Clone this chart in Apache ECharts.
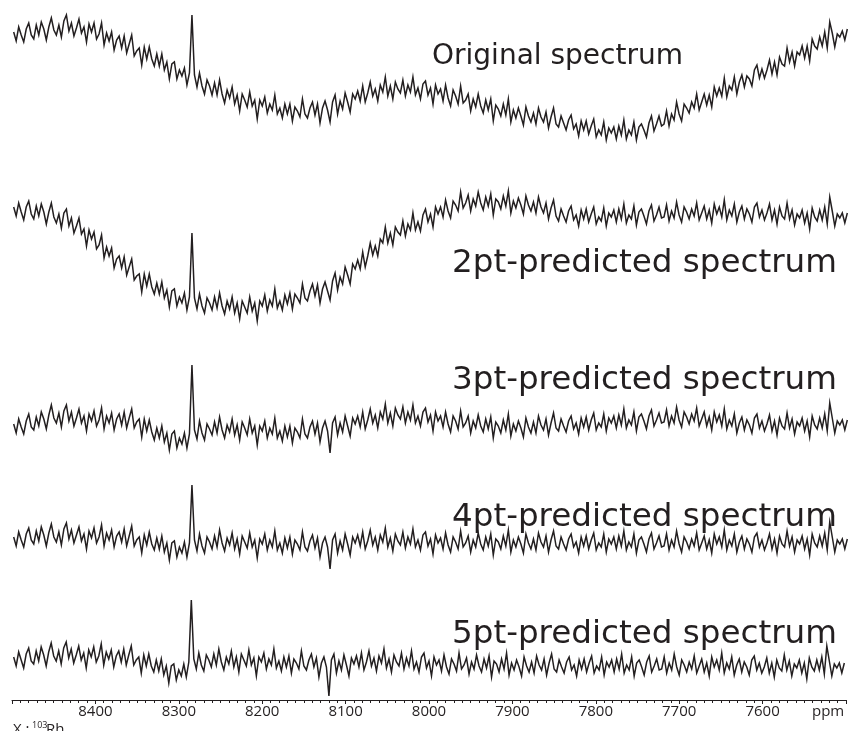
<!DOCTYPE html>
<html>
<head>
<meta charset="utf-8">
<script src="https://cdn.jsdelivr.net/npm/echarts@6/dist/echarts.min.js"></script>
<style>
html, body { margin: 0; padding: 0; background: #fff; }
#nmrStack { width: 849px; height: 731px; }
</style>
</head>
<body>
<div id="nmrStack"></div>
<script>
// 103Rh shift grid: one point every 3 ppm, 8498 -> 7502
const ppm = []
for (let i = 0; i < 333; i++) ppm.push(8498 - 3 * i)

const tickLabels = [8400, 8300, 8200, 8100, 8000, 7900, 7800, 7700, 7600]
const traceNames = ['Original spectrum', '2pt-predicted spectrum', '3pt-predicted spectrum', '4pt-predicted spectrum', '5pt-predicted spectrum']

// intensities (a.u.)
const original = [
  118,109,123,115,108,121,127,115,111,125, 115,128,121,110,123,132,120,115,125,113,
  129,135,119,127,114,122,131,117,123,108, 126,118,127,111,116,127,105,117,109,118,
  100,110,114,102,114,97,106,115,94,99, 102,85,103,91,103,91,84,96,84,96,
  80,88,71,86,88,71,80,74,82,65, 77,135,75,63,77,64,56,70,64,55,
  67,55,70,56,47,60,52,63,46,55, 39,56,50,43,58,44,50,31,50,44,
  53,37,46,40,55,36,42,32,46,36, 46,29,43,39,33,51,36,32,42,48,
  35,46,27,42,49,40,28,48,55,36, 49,41,57,48,38,56,51,59,49,64,
  48,57,68,54,61,49,65,58,73,54, 64,51,68,61,57,70,54,65,58,73,
  55,62,51,66,69,55,62,46,65,56, 61,49,65,52,44,60,54,46,64,47,
  50,56,39,51,43,56,44,37,50,40, 51,29,45,41,34,46,35,51,28,40,
  32,42,34,25,43,34,28,37,26,42, 33,28,38,22,33,42,26,23,34,27,
  20,30,35,21,26,14,29,20,29,16, 24,31,13,20,15,28,10,22,17,23,
  11,24,15,30,11,20,15,28,10,23, 26,20,13,27,34,19,26,34,24,26,
  39,24,36,30,48,36,29,46,42,37, 48,42,56,40,48,56,45,55,43,63,
  54,62,54,72,53,64,60,73,56,68, 75,63,74,71,64,80,85,72,81,72,
  80,90,76,88,75,93,86,84,102,88, 98,84,98,95,104,92,104,89,111,104,
  101,113,104,118,102,128,117,103,116,113, 119,110,121
]
const pred2 = [
  123,114,127,118,110,123,129,116,111,124, 114,126,118,106,118,127,113,107,116,102,
  117,121,104,112,97,104,112,96,101,84, 100,91,98,81,85,95,72,83,74,82,
  62,71,74,62,73,55,63,71,50,54, 56,38,56,44,56,43,36,47,36,48,
  32,40,23,39,41,24,33,27,37,20, 33,97,32,21,36,24,17,32,27,20,
  33,22,37,24,16,29,21,33,17,27, 11,29,23,17,33,19,27,9,29,24,
  35,19,30,24,41,22,29,20,35,26, 37,21,36,32,27,46,32,29,39,46,
  34,45,27,41,48,39,30,49,57,40, 53,46,63,55,46,66,61,70,61,78,
  63,74,87,75,84,74,91,87,103,87, 97,85,103,98,95,109,94,106,100,117,
  100,108,99,115,121,108,116,103,123,116, 123,113,130,119,112,129,125,119,138,122,
  127,135,119,131,124,138,127,120,133,124, 136,115,131,128,121,134,124,139,117,129,
  122,132,125,116,134,125,119,128,117,133, 123,117,127,111,122,130,114,109,121,114,
  108,119,124,110,115,104,120,111,121,108, 116,123,106,113,109,122,104,117,113,120,
  108,121,111,126,107,115,111,124,105,118, 121,114,106,119,125,109,115,123,112,113,
  125,109,119,112,128,115,108,123,118,111, 121,114,127,110,117,124,111,120,107,126,
  116,123,113,130,110,120,114,126,108,118, 124,111,121,116,108,123,127,113,120,110,
  117,126,110,120,106,123,114,111,127,111, 120,105,116,112,120,107,117,101,122,113,
  109,120,110,123,106,133,119,104,116,112, 117,107,117
]
const pred3 = [
  31,22,36,28,21,34,41,28,25,38, 29,43,36,26,40,50,37,32,42,28,
  44,50,34,43,29,37,46,32,39,24, 41,34,44,29,35,47,26,39,32,42,
  25,36,41,30,43,27,37,46,27,33, 36,18,36,24,35,23,15,27,17,29,
  13,22,5,21,24,7,17,11,22,7, 21,90,25,16,34,22,15,31,26,20,
  33,22,38,25,17,30,23,36,20,30, 15,33,27,20,36,22,29,10,29,24,
  34,17,27,21,37,17,24,14,29,18, 29,12,27,23,17,36,21,17,28,34,
  21,32,13,27,34,24,2,32,38,20, 32,23,39,29,19,37,31,39,28,43,
  26,35,46,32,40,27,43,36,51,32, 42,29,47,40,36,48,32,43,35,50,
  32,39,29,43,47,33,40,24,43,34, 39,28,43,31,23,39,34,26,44,28,
  32,39,22,34,27,40,29,23,36,26, 38,17,33,29,22,35,25,41,19,31,
  24,34,27,18,37,28,22,33,22,39, 30,25,36,20,32,42,27,24,36,29,
  23,34,39,26,32,21,37,28,38,25, 35,42,25,32,28,41,24,37,32,39,
  27,40,30,46,27,35,30,43,24,38, 41,34,26,39,45,29,35,42,32,33,
  45,29,39,32,48,35,28,43,38,31, 41,34,47,29,36,43,29,38,25,43,
  33,40,29,46,26,35,29,41,22,32, 38,25,35,30,22,37,41,27,34,24,
  31,40,24,34,20,37,29,26,42,27, 36,21,33,29,37,24,34,18,39,30,
  26,37,27,41,24,52,37,22,34,30, 35,25,35
]
const pred4 = [
  36,27,41,33,26,39,45,33,29,42, 32,46,38,27,40,49,36,31,41,28,
  44,50,34,43,30,38,46,32,39,24, 42,35,45,30,36,48,27,40,33,43,
  26,37,41,31,44,27,37,47,27,33, 36,20,38,28,41,29,23,35,24,37,
  21,30,13,30,32,16,26,20,31,16, 30,88,33,22,39,27,20,36,31,24,
  37,26,43,30,22,35,28,40,24,34, 19,37,31,25,40,26,33,15,34,29,
  39,23,33,26,42,23,30,20,35,25, 36,19,33,29,23,41,26,22,32,38,
  25,35,16,30,36,26,4,33,39,20, 32,23,39,29,18,36,30,38,27,41,
  24,32,43,28,36,23,38,31,45,26, 35,22,39,32,28,41,25,36,29,44,
  26,33,23,38,41,27,34,19,38,30, 35,24,40,28,21,36,31,24,42,26,
  30,37,21,33,26,40,29,23,36,27, 39,18,34,31,24,37,27,43,21,33,
  26,36,29,20,39,30,24,34,23,40, 31,26,37,21,33,42,27,24,36,29,
  23,34,39,26,31,20,36,27,37,24, 33,40,23,30,26,39,21,34,29,36,
  24,37,27,42,23,31,26,39,20,33, 36,29,21,34,40,24,30,37,26,27,
  39,23,33,26,42,29,21,36,31,24, 34,27,40,23,30,37,24,33,20,39,
  29,36,26,43,23,33,27,39,21,31, 37,24,34,29,21,36,40,26,33,23,
  30,39,24,34,20,37,29,26,42,27, 36,21,33,29,37,24,34,18,39,30,
  26,37,27,40,23,51,36,21,33,29, 34,24,34
]
const pred5 = [
  43,34,48,40,32,46,52,39,36,49, 39,53,45,34,48,57,44,39,49,36,
  52,58,42,51,37,45,54,40,47,32, 50,43,53,38,44,56,35,48,41,50,
  33,44,49,38,51,35,45,54,35,40, 43,27,45,34,46,34,28,40,29,41,
  25,34,17,34,36,20,30,24,36,23, 38,100,41,31,47,35,29,45,40,33,
  46,35,51,38,30,43,36,49,33,43, 28,46,40,34,50,35,42,24,43,38,
  47,31,41,35,51,32,39,29,43,33, 44,27,41,37,31,49,34,30,40,46,
  33,42,23,37,43,33,4,40,46,27, 39,30,45,35,24,42,36,44,33,47,
  30,38,49,34,42,29,44,37,51,32, 41,28,45,38,34,47,31,42,34,49,
  31,38,28,43,47,32,39,24,43,35, 40,29,45,33,26,41,36,29,47,31,
  35,42,26,38,31,45,34,28,41,32, 44,23,39,36,28,41,31,47,25,37,
  30,40,33,24,43,34,28,38,27,44, 35,30,41,25,37,46,31,28,40,33,
  27,38,43,30,35,24,40,31,41,28, 37,44,27,34,30,43,25,38,33,40,
  28,41,31,46,27,35,30,43,24,37, 40,33,25,38,44,28,34,41,30,31,
  43,27,37,30,46,33,25,40,35,28, 38,31,44,27,34,41,28,37,24,43,
  33,40,30,47,27,37,31,43,25,35, 41,28,38,33,25,40,44,30,37,27,
  33,42,27,37,23,40,32,29,45,30, 39,24,36,32,40,27,37,21,42,33,
  29,40,30,43,26,54,39,24,36,32, 37,27,37
]

const traces = [original, pred2, pred3, pred4, pred5]
// one strip per spectrum, 1 unit = 1 px
const strips = [
  { top: 0, height: 150 },
  { top: 170, height: 160 },
  { top: 345, height: 110 },
  { top: 463, height: 110 },
  { top: 580, height: 120 },
]
const labelPos = [
  { x: 432, y: 57, size: 28 },
  { x: 452, y: 264, size: 32.6 },
  { x: 452, y: 381, size: 32.6 },
  { x: 452, y: 518, size: 32.6 },
  { x: 452, y: 635, size: 32.6 },
]
const ink = '#231f20'

const chart = echarts.init(document.getElementById('nmrStack'))
const last = strips.length - 1
const option = {
  animation: false,
  grid: strips.map(s => ({ left: 12, right: -3, top: s.top, height: s.height })),
  xAxis: strips.map((s, i) => ({
    type: 'value',
    gridIndex: i,
    inverse: true,
    min: 7500,
    max: 8500,
    interval: 100,
    show: i === last,
    splitLine: { show: false },
    axisLine: { show: true, onZero: false, lineStyle: { color: ink, width: 1 } },
    axisTick: { show: true, length: 4, lineStyle: { color: ink } },
    minorTick: { show: true, splitNumber: 10, length: 3, lineStyle: { color: ink } },
    axisLabel: {
      margin: 4,
      color: ink,
      fontFamily: 'Open Sans',
      fontSize: 15,
      formatter: v => (tickLabels.indexOf(v) >= 0 ? String(v) : ''),
    },
  })),
  yAxis: strips.map((s, i) => ({
    type: 'value',
    gridIndex: i,
    min: 0,
    max: s.height,
    show: false,
  })),
  series: traces.map((arr, i) => ({
    type: 'line',
    name: traceNames[i],
    xAxisIndex: i,
    yAxisIndex: i,
    showSymbol: false,
    symbol: 'none',
    lineStyle: { color: ink, width: 1.5, join: 'miter' },
    data: ppm.map((x, k) => [x, arr[k]]),
  })),
  graphic: labelPos.map((p, i) => ({
    type: 'text',
    x: p.x,
    y: p.y,
    style: {
      text: traceNames[i],
      font: p.size + 'px "DejaVu Sans"',
      fill: ink,
      verticalAlign: 'middle',
    },
  })).concat([
    { type: 'text', x: 812, y: 704, style: { text: 'ppm', font: '15px "Open Sans"', fill: ink, verticalAlign: 'top' } },
    { type: 'text', x: 13, y: 722, style: { text: 'X :', font: '15px "Open Sans"', fill: ink, verticalAlign: 'top' } },
    { type: 'text', x: 32, y: 721, style: { text: '103', font: '9px "Open Sans"', fill: ink, verticalAlign: 'top' } },
    { type: 'text', x: 46, y: 722, style: { text: 'Rh', font: '15px "Open Sans"', fill: ink, verticalAlign: 'top' } },
  ]),
}
chart.setOption(option)
window.addEventListener('resize', function () {
  chart.resize()
})
</script>
</body>
</html>
